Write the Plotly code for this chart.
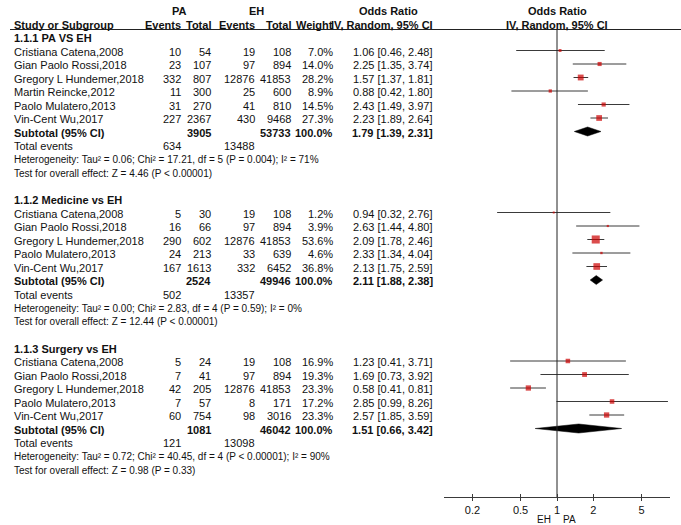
import math
import plotly.graph_objects as go

# ---------------- data ----------------
group_titles = ["1.1.1 PA VS EH", "1.1.2 Medicine vs EH", "1.1.3 Surgery vs EH"]

g1_study = ["Cristiana Catena,2008", "Gian Paolo Rossi,2018", "Gregory L Hundemer,2018",
            "Martin Reincke,2012", "Paolo Mulatero,2013", "Vin-Cent Wu,2017"]
g1_pa_events = [10, 23, 332, 11, 31, 227]
g1_pa_total = [54, 107, 807, 300, 270, 2367]
g1_eh_events = [19, 97, 12876, 25, 41, 430]
g1_eh_total = [108, 894, 41853, 600, 810, 9468]
g1_weight = [7.0, 14.0, 28.2, 8.9, 14.5, 27.3]
g1_or = [1.06, 2.25, 1.57, 0.88, 2.43, 2.23]
g1_lo = [0.46, 1.35, 1.37, 0.42, 1.49, 1.89]
g1_hi = [2.48, 3.74, 1.81, 1.80, 3.97, 2.64]

g2_study = ["Cristiana Catena,2008", "Gian Paolo Rossi,2018", "Gregory L Hundemer,2018",
            "Paolo Mulatero,2013", "Vin-Cent Wu,2017"]
g2_pa_events = [5, 16, 290, 24, 167]
g2_pa_total = [30, 66, 602, 213, 1613]
g2_eh_events = [19, 97, 12876, 33, 332]
g2_eh_total = [108, 894, 41853, 639, 6452]
g2_weight = [1.2, 3.9, 53.6, 4.6, 36.8]
g2_or = [0.94, 2.63, 2.09, 2.33, 2.13]
g2_lo = [0.32, 1.44, 1.78, 1.34, 1.75]
g2_hi = [2.76, 4.80, 2.46, 4.04, 2.59]

g3_study = ["Cristiana Catena,2008", "Gian Paolo Rossi,2018", "Gregory L Hundemer,2018",
            "Paolo Mulatero,2013", "Vin-Cent Wu,2017"]
g3_pa_events = [5, 7, 42, 7, 60]
g3_pa_total = [24, 41, 205, 57, 754]
g3_eh_events = [19, 97, 12876, 8, 98]
g3_eh_total = [108, 894, 41853, 171, 3016]
g3_weight = [16.9, 19.3, 23.3, 17.2, 23.3]
g3_or = [1.23, 1.69, 0.58, 2.85, 2.57]
g3_lo = [0.41, 0.73, 0.41, 0.99, 1.85]
g3_hi = [3.71, 3.92, 0.81, 8.26, 3.59]

sub_pa_total = [3905, 2524, 1081]
sub_eh_total = [53733, 49946, 46042]
sub_or = [1.79, 2.11, 1.51]
sub_lo = [1.39, 1.88, 0.66]
sub_hi = [2.31, 2.38, 3.42]
tot_pa_events = [634, 502, 121]
tot_eh_events = [13488, 13357, 13098]
het_tau2 = ["0.06", "0.00", "0.72"]
het_chi2 = ["17.21", "2.83", "40.45"]
het_df = [5, 4, 4]
het_p = ["P = 0.004", "P = 0.59", "P < 0.00001"]
het_i2 = [71, 0, 90]
z_val = ["4.46", "12.44", "0.98"]
z_p = ["P < 0.00001", "P < 0.00001", "P = 0.33"]

tick_vals = [0.2, 0.5, 1, 2, 5]
tick_text = ["0.2", "0.5", "1", "2", "5"]

groups = [
    dict(study=g1_study, pe=g1_pa_events, pt=g1_pa_total, ee=g1_eh_events, et=g1_eh_total,
         w=g1_weight, orr=g1_or, lo=g1_lo, hi=g1_hi),
    dict(study=g2_study, pe=g2_pa_events, pt=g2_pa_total, ee=g2_eh_events, et=g2_eh_total,
         w=g2_weight, orr=g2_or, lo=g2_lo, hi=g2_hi),
    dict(study=g3_study, pe=g3_pa_events, pt=g3_pa_total, ee=g3_eh_events, et=g3_eh_total,
         w=g3_weight, orr=g3_or, lo=g3_lo, hi=g3_hi),
]

# ---------------- layout constants ----------------
W, H = 681, 525
ROW0, STEP = 10.0, 13.5
FONT = "Liberation Sans, Arial, sans-serif"
FS = 11
TXT = "#111111"
RED = "#CC0000"
LINE = "#3a3a3a"

X_NAME = 12
X_PA_EV, X_PA_TOT, X_EH_EV, X_EH_TOT, X_WT, X_OR = 183, 213, 257, 293, 335, 435
AXIS_Y = 497
AX_L, AX_R, AX_ONE, DECADE = 444, 670, 557, 121.0
rng = [(AX_L - AX_ONE) / DECADE, (AX_R - AX_ONE) / DECADE]


def ry(r):
    return ROW0 + STEP * r


annotations = []


def ann(text, x, y, anchor="left", bold=False, size=FS):
    if bold:
        text = "<b>" + text + "</b>"
    annotations.append(dict(text=text, x=x / W, y=y + 1, xref="paper", yref="y",
                            xanchor=anchor, yanchor="middle", showarrow=False,
                            font=dict(family=FONT, size=size, color=TXT)))


# header
ann("PA", 179, ry(0), "center", True)
ann("EH", 256, ry(0), "center", True)
ann("Odds Ratio", 388, ry(0), "center", True)
ann("Odds Ratio", 557, ry(0), "center", True)
ann("Study or Subgroup", X_NAME, ry(1), "left", True)
ann("Events", X_PA_EV, ry(1), "right", True)
ann("Total", X_PA_TOT, ry(1), "right", True)
ann("Events", X_EH_EV, ry(1), "right", True)
ann("Total", X_EH_TOT, ry(1), "right", True)
ann("Weight", X_WT, ry(1), "right", True)
ann("IV, Random, 95% CI", X_OR, ry(1), "right", True)
ann("IV, Random, 95% CI", 557, ry(1), "center", True)

fig = go.Figure()

row = 2
ci_x, ci_y = [], []
mk_x, mk_y, mk_s = [], [], []
for gi, g in enumerate(groups):
    ann(group_titles[gi], X_NAME, ry(row), "left", True)
    row += 1
    for i in range(len(g["study"])):
        y = ry(row)
        ann(g["study"][i], X_NAME, y)
        ann(str(g["pe"][i]), X_PA_EV, y, "right")
        ann(str(g["pt"][i]), X_PA_TOT, y, "right")
        ann(str(g["ee"][i]), X_EH_EV, y, "right")
        ann(str(g["et"][i]), X_EH_TOT, y, "right")
        ann("%.1f%%" % g["w"][i], X_WT, y, "right")
        ann("%.2f [%.2f, %.2f]" % (g["orr"][i], g["lo"][i], g["hi"][i]), X_OR, y, "right")
        ci_x += [g["lo"][i], g["hi"][i], None]
        ci_y += [y, y, None]
        mk_x.append(g["orr"][i])
        mk_y.append(y)
        mk_s.append(max(2.0, 1.1 * math.sqrt(g["w"][i])))
        row += 1
    # subtotal
    y = ry(row)
    ann("Subtotal (95% CI)", X_NAME, y, "left", True)
    ann(str(sub_pa_total[gi]), X_PA_TOT, y, "right", True)
    ann(str(sub_eh_total[gi]), X_EH_TOT, y, "right", True)
    ann("100.0%", X_WT, y, "right", True)
    ann("%.2f [%.2f, %.2f]" % (sub_or[gi], sub_lo[gi], sub_hi[gi]), X_OR, y, "right", True)
    fig.add_trace(go.Scatter(
        x=[sub_lo[gi], sub_or[gi], sub_hi[gi], sub_or[gi], sub_lo[gi]],
        y=[y, y - 4.5, y, y + 4.5, y], mode="lines", fill="toself",
        fillcolor="black", line=dict(color="black", width=0.5),
        hoverinfo="skip", showlegend=False))
    row += 1
    y = ry(row)
    ann("Total events", X_NAME, y)
    ann(str(tot_pa_events[gi]), X_PA_EV, y, "right")
    ann(str(tot_eh_events[gi]), X_EH_EV, y, "right")
    row += 1
    ann("Heterogeneity: Tau² = %s; Chi² = %s, df = %d (%s); I² = %d%%"
        % (het_tau2[gi], het_chi2[gi], het_df[gi], het_p[gi], het_i2[gi]), X_NAME, ry(row),
        size=10)
    row += 1
    ann("Test for overall effect: Z = %s (%s)" % (z_val[gi], z_p[gi]), X_NAME, ry(row), size=10)
    row += 2

fig.add_trace(go.Scatter(x=ci_x, y=ci_y, mode="lines", line=dict(color=LINE, width=1),
                         hoverinfo="skip", showlegend=False))
fig.add_trace(go.Scatter(x=mk_x, y=mk_y, mode="markers",
                         marker=dict(symbol="square", size=mk_s, color=RED, line=dict(width=0)),
                         showlegend=False))
# line of no effect (on overlay axis)
fig.add_trace(go.Scatter(x=[1, 1], y=[29.5, AXIS_Y], xaxis="x2", mode="lines",
                         line=dict(color="#222222", width=1), hoverinfo="skip", showlegend=False))

ann("EH", 553, 518, "right", size=10)
ann("PA", 561, 518, "left", size=10)

pos = (H - AXIS_Y) / H
fig.update_layout(
    width=W, height=H, margin=dict(l=0, r=0, t=0, b=0),
    paper_bgcolor="white", plot_bgcolor="white",
    font=dict(family=FONT, size=FS, color=TXT),
    showlegend=False,
    annotations=annotations,
    shapes=[dict(type="line", xref="paper", yref="y", x0=10 / W, x1=1, y0=29.5, y1=29.5,
                 line=dict(color="#222222", width=1))],
    yaxis=dict(range=[H, 0], domain=[0, 1], visible=False, fixedrange=True),
    xaxis=dict(type="log", range=rng, domain=[AX_L / W, AX_R / W], anchor="free", position=pos,
               showline=True, linecolor=LINE, linewidth=1, ticks="outside", ticklen=3,
               tickcolor=LINE, tickvals=tick_vals, ticktext=tick_text, showgrid=False,
               zeroline=False, tickfont=dict(family=FONT, size=FS, color=TXT), fixedrange=True),
    xaxis2=dict(type="log", range=rng, domain=[AX_L / W, AX_R / W], anchor="free", position=pos,
                overlaying="x", showline=False, ticks="inside", ticklen=3, tickcolor=LINE,
                tickvals=tick_vals, showticklabels=False, showgrid=False, zeroline=False,
                fixedrange=True),
)

fig.write_html("out.html")
